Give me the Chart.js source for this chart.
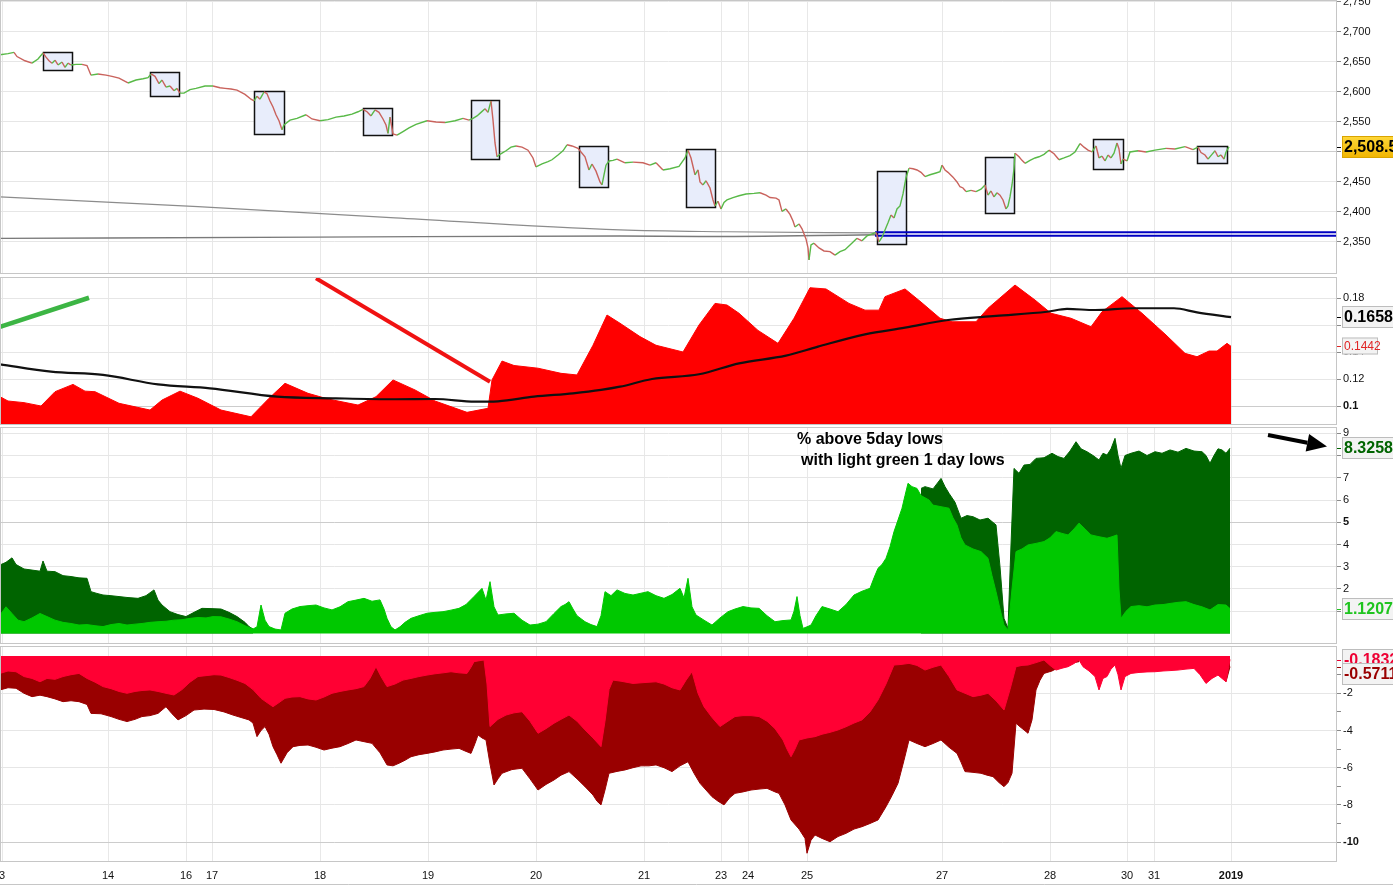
<!DOCTYPE html>
<html><head><meta charset="utf-8">
<script src="https://cdn.jsdelivr.net/npm/chart.js@4.4.1/dist/chart.umd.min.js"></script>
<style>
html,body{margin:0;padding:0;background:#fff;overflow:hidden;width:1393px;height:887px}
canvas{position:absolute;left:0}
</style></head><body>
<canvas id="c1" width="1393" height="274" style="top:0px"></canvas>
<canvas id="c2" width="1393" height="148" style="top:277px"></canvas>
<canvas id="c3" width="1393" height="217" style="top:427px"></canvas>
<canvas id="c4" width="1393" height="241" style="top:646px"></canvas>
<script>
// ---------- DATA ----------
// time axis (bar index) and day labels
const tickPos = [2,108,186,212,320,428,536,644,721,748,807,942,1050,1127,1154,1231];
const tickLabels = ['3','14','16','17','18','19','20','21','23','24','25','27','28','30','31','2019'];
const X_MIN = 0, X_MAX = 1337;

// panel 1 : price
const priceTicks = [2350,2400,2450,2500,2550,2600,2650,2700,2750];
const priceData = [[0,2662],[8,2664],[14,2666],[17,2659],[25,2652],[32,2648],[38,2655],[43,2665],[46,2658],[49,2652],[52,2648],[55,2653],[58,2645],[62,2650],[65,2641],[68,2648],[71,2645],[76,2646],[82,2646],[87,2644],[91,2628],[98,2630],[106,2628],[112,2626],[119,2623],[128,2615],[136,2620],[143,2622],[148,2624],[151,2630],[155,2626],[159,2614],[162,2620],[166,2608],[170,2610],[174,2602],[177,2606],[180,2598],[184,2598],[190,2604],[196,2606],[205,2610],[213,2610],[220,2607],[225,2606],[231,2605],[237,2603],[245,2596],[251,2588],[254,2585],[257,2593],[260,2588],[264,2600],[267,2597],[270,2585],[273,2575],[276,2562],[279,2552],[282,2537],[284,2545],[290,2553],[297,2556],[306,2562],[312,2555],[320,2552],[328,2554],[336,2558],[344,2560],[352,2563],[358,2567],[363,2571],[367,2567],[371,2560],[375,2570],[379,2566],[383,2555],[386,2545],[388,2531],[390,2558],[393,2530],[397,2528],[403,2534],[409,2540],[416,2546],[427,2552],[436,2550],[445,2549],[455,2552],[463,2556],[469,2553],[473,2556],[477,2560],[481,2566],[485,2572],[488,2566],[491,2585],[493,2553],[495,2515],[497,2492],[499,2495],[502,2498],[506,2502],[511,2508],[516,2510],[522,2508],[528,2503],[533,2490],[536,2475],[542,2480],[548,2484],[552,2487],[558,2495],[563,2502],[567,2512],[572,2510],[578,2506],[581,2500],[585,2492],[589,2470],[592,2480],[596,2468],[600,2450],[602,2445],[604,2462],[606,2478],[609,2485],[613,2486],[617,2488],[625,2482],[633,2483],[643,2482],[650,2478],[656,2482],[663,2470],[670,2472],[679,2476],[685,2490],[688,2503],[691,2490],[695,2462],[698,2470],[700,2450],[703,2445],[706,2452],[710,2440],[713,2420],[715,2410],[718,2418],[721,2405],[724,2416],[727,2420],[733,2424],[739,2427],[746,2430],[754,2431],[760,2432],[766,2428],[770,2424],[776,2423],[779,2420],[782,2401],[786,2405],[790,2396],[793,2385],[795,2375],[799,2380],[802,2372],[806,2355],[808,2340],[809,2320],[811,2345],[814,2348],[819,2340],[824,2335],[830,2334],[835,2328],[840,2334],[845,2337],[850,2345],[857,2356],[862,2352],[867,2360],[873,2364],[876,2366],[879,2350],[882,2358],[885,2370],[888,2382],[891,2395],[894,2390],[897,2405],[900,2410],[903,2430],[906,2457],[909,2473],[913,2472],[917,2470],[921,2466],[925,2459],[930,2462],[936,2465],[940,2467],[942,2478],[945,2470],[948,2466],[953,2458],[957,2450],[960,2442],[963,2440],[966,2434],[971,2436],[976,2434],[981,2438],[985,2445],[988,2428],[991,2435],[994,2425],[997,2432],[1000,2428],[1003,2420],[1006,2405],[1008,2410],[1010,2425],[1012,2445],[1014,2472],[1015,2498],[1019,2492],[1022,2486],[1025,2481],[1030,2486],[1035,2490],[1039,2492],[1044,2496],[1049,2503],[1054,2497],[1059,2487],[1064,2490],[1070,2494],[1075,2500],[1080,2514],[1084,2508],[1088,2503],[1092,2500],[1096,2510],[1099,2490],[1102,2493],[1105,2485],[1108,2495],[1111,2490],[1114,2498],[1117,2515],[1119,2505],[1121,2480],[1123,2488],[1127,2485],[1130,2500],[1138,2502],[1146,2500],[1155,2503],[1166,2506],[1175,2505],[1185,2509],[1193,2504],[1198,2508],[1201,2499],[1205,2495],[1208,2488],[1212,2496],[1215,2502],[1218,2492],[1221,2495],[1224,2488],[1226,2500],[1229,2508.5]];
const lastPrice = 2508.5;
const slowAvg = [[0,2425],[198,2409],[395,2390],[620,2370],[727,2367],[877,2365]];
const flatAvg = [[0,2356],[316,2358],[620,2360],[699,2359],[877,2362]];
const supportLevels = [2366, 2360.5];
const supportStart = 875;
const boxStart = [43,150,254,363,471,579,686,877,985,1093,1197];
const boxEnd   = [72,179,284,392,499,608,715,906,1014,1123,1227];
const boxHigh  = [2667,2634,2601,2573,2586,2510,2505,2468,2491,2521,2510];
const boxLow   = [2637,2593,2530,2528,2488,2441,2408,2346,2398,2471,2481];

// panel 2 : red area + black average
const volTicks = [0.1,0.12,0.14,0.16,0.18];
const volData = [[0,0.1069],[8,0.1037],[24,0.1025],[41,0.100],[55,0.1106],[73,0.116],[85,0.111],[95,0.1106],[119,0.102],[150,0.097],[162,0.1044],[180,0.111],[198,0.1057],[221,0.097],[251,0.092],[269,0.1057],[285,0.1168],[308,0.1094],[328,0.1052],[358,0.1007],[376,0.1069],[393,0.1193],[415,0.1119],[435,0.1037],[467,0.0953],[488,0.0983],[492,0.1193],[502,0.1333],[514,0.130],[538,0.128],[561,0.1242],[577,0.123],[593,0.145],[607,0.1674],[620,0.1613],[640,0.1514],[656,0.145],[683,0.140],[699,0.160],[715,0.176],[727,0.1748],[739,0.1687],[758,0.156],[778,0.1464],[794,0.165],[810,0.1876],[826,0.1867],[849,0.176],[865,0.171],[879,0.171],[885,0.181],[905,0.1867],[921,0.177],[940,0.165],[952,0.1624],[976,0.1624],[988,0.1724],[1015,0.1896],[1035,0.1785],[1051,0.1687],[1071,0.165],[1091,0.1587],[1102,0.1698],[1122,0.181],[1142,0.1687],[1166,0.1526],[1185,0.139],[1197,0.1365],[1209,0.1407],[1217,0.1407],[1227,0.1464],[1231,0.1442]];
const volMaData = [[0,0.1309],[51,0.1254],[103,0.123],[158,0.116],[210,0.1131],[277,0.1069],[336,0.1057],[395,0.105],[435,0.1052],[475,0.1032],[498,0.1035],[534,0.1069],[573,0.1094],[601,0.1119],[620,0.1143],[652,0.120],[699,0.1235],[739,0.1316],[786,0.1373],[818,0.144],[865,0.1531],[905,0.158],[948,0.1637],[996,0.1667],[1047,0.1698],[1067,0.1719],[1095,0.1711],[1134,0.1724],[1174,0.1724],[1197,0.1694],[1231,0.1658]];
const lastVol = 0.1442, lastVolMa = 0.1658;
const trendGreen = [[0,0.1587],[89,0.1802]];
const trendRed = [[316,0.1946],[490,0.118]];

// panel 3 : % above lows
const pctTicks = [1,2,3,4,5,6,7,8,9];
const above5Data = [[0,3.08],[6,3.2],[12,3.4],[16,3.1],[24,2.9],[32,2.85],[40,2.8],[43,3.26],[47,2.8],[55,2.78],[63,2.6],[71,2.56],[79,2.5],[87,2.48],[91,1.88],[97,1.8],[103,1.73],[111,1.7],[119,1.66],[127,1.62],[138,1.58],[146,1.7],[154,1.96],[158,1.5],[162,1.28],[170,0.98],[178,0.85],[186,0.76],[194,0.95],[202,1.13],[210,1.12],[221,1.10],[229,0.95],[237,0.76],[245,0.5],[249,0.31],[253,0.2],[255,null],[921,6.52],[925,6.6],[933,6.5],[941,6.97],[945,6.6],[949,6.3],[955,5.9],[961,5.18],[967,5.3],[973,5.25],[980,5.1],[988,5.18],[996,4.88],[1000,3.0],[1004,0.68],[1008,0.23],[1011,4.0],[1014,7.42],[1019,7.2],[1024,7.57],[1030,7.6],[1036,7.87],[1044,7.9],[1052,8.1],[1058,7.95],[1064,7.87],[1070,8.2],[1076,8.62],[1081,8.3],[1087,8.17],[1093,8.0],[1099,7.8],[1103,8.1],[1107,8.02],[1111,8.3],[1115,8.77],[1118,8.0],[1121,7.42],[1125,8.0],[1131,8.1],[1139,8.2],[1147,8.0],[1155,8.17],[1162,8.1],[1170,8.25],[1178,8.15],[1186,8.32],[1194,8.2],[1202,8.17],[1206,8.0],[1210,7.65],[1214,8.0],[1218,8.3],[1222,8.25],[1226,8.1],[1230,8.33]];
const above1Data = [[0,0.83],[6,1.2],[12,0.9],[18,0.6],[24,0.53],[32,0.7],[40,0.9],[47,0.76],[55,0.6],[63,0.5],[71,0.45],[79,0.38],[87,0.4],[95,0.35],[103,0.31],[111,0.4],[119,0.45],[127,0.38],[135,0.42],[142,0.45],[150,0.5],[158,0.53],[166,0.55],[174,0.6],[182,0.62],[190,0.68],[198,0.72],[206,0.7],[213,0.76],[221,0.75],[229,0.65],[237,0.53],[245,0.35],[253,0.2],[257,0.3],[261,1.28],[265,0.6],[269,0.31],[275,0.2],[281,0.16],[285,0.91],[292,1.1],[300,1.21],[308,1.25],[316,1.28],[324,1.15],[332,1.06],[340,1.2],[348,1.43],[356,1.5],[364,1.58],[372,1.45],[380,1.51],[384,1.1],[387,0.68],[391,0.3],[395,0.16],[400,0.3],[405,0.5],[411,0.68],[419,0.8],[427,0.91],[435,0.95],[443,0.98],[451,1.05],[459,1.13],[466,1.3],[474,1.66],[482,2.03],[486,1.5],[490,2.33],[494,1.2],[498,0.83],[506,0.88],[514,0.91],[522,0.6],[530,0.38],[538,0.42],[546,0.53],[554,0.9],[561,1.21],[565,1.3],[569,1.43],[573,1.1],[577,0.8],[585,0.53],[591,0.4],[597,0.31],[601,0.8],[605,1.88],[611,1.7],[617,1.96],[625,1.8],[633,1.73],[640,1.8],[648,1.88],[656,1.7],[664,1.58],[672,1.75],[680,2.03],[684,1.6],[688,2.48],[692,1.2],[696,0.83],[704,0.6],[712,0.38],[720,0.7],[728,0.98],[735,1.1],[743,1.21],[751,1.15],[759,1.13],[767,0.8],[775,0.53],[783,0.58],[791,0.61],[794,1.0],[797,1.66],[800,0.8],[803,0.23],[807,0.3],[811,0.38],[816,0.8],[822,1.21],[830,1.1],[838,0.98],[846,1.3],[854,1.73],[862,1.9],[870,2.03],[874,2.5],[878,2.93],[882,3.1],[886,3.38],[890,3.9],[894,4.58],[898,5.1],[902,5.63],[905,6.2],[908,6.75],[912,6.6],[917,6.52],[921,6.2],[925,6.1],[929,6.0],[933,5.77],[941,5.7],[949,5.63],[953,5.2],[957,4.88],[961,4.3],[965,3.98],[973,3.8],[981,3.68],[988,3.38],[992,2.6],[996,1.88],[1000,1.1],[1004,0.38],[1008,0.16],[1012,2.0],[1016,3.68],[1022,3.8],[1028,3.98],[1036,4.05],[1044,4.13],[1050,4.3],[1056,4.58],[1062,4.5],[1068,4.43],[1074,4.7],[1079,4.96],[1085,4.7],[1091,4.43],[1099,4.35],[1107,4.28],[1112,4.35],[1117,4.43],[1119,2.0],[1121,0.68],[1126,1.0],[1131,1.21],[1139,1.25],[1147,1.2],[1155,1.28],[1163,1.3],[1170,1.35],[1178,1.4],[1186,1.43],[1194,1.3],[1202,1.2],[1210,1.06],[1218,1.3],[1226,1.28],[1230,1.12]];
const lastAbove5 = 8.3258, lastAbove1 = 1.1207;
const noteLines = ['% above 5day lows', 'with light green 1 day lows'];
const noteAnchors = [[797, 8.70], [801, 7.75]];
const arrowPts = [[1268, 8.92], [1327, 8.40]];

// panel 4 : % below highs
const negTicks = [-10,-9,-8,-7,-6,-5,-4,-3,-2,-1];
const below1Data = [[0,-0.93],[8,-0.8],[16,-0.84],[24,-1.1],[32,-1.2],[40,-1.38],[47,-1.2],[55,-1.25],[63,-1.1],[71,-1.0],[79,-0.93],[87,-1.2],[95,-1.4],[103,-1.64],[111,-1.75],[119,-1.9],[127,-2.0],[135,-1.9],[142,-1.85],[150,-1.82],[158,-1.9],[166,-2.0],[174,-2.09],[182,-1.8],[190,-1.4],[198,-1.1],[206,-1.05],[214,-1.0],[221,-1.02],[229,-1.15],[237,-1.3],[245,-1.47],[253,-1.8],[261,-2.27],[267,-2.5],[273,-2.72],[279,-2.5],[285,-2.27],[292,-2.2],[300,-2.18],[308,-2.3],[316,-2.36],[324,-2.2],[332,-2.0],[340,-1.9],[348,-1.82],[356,-1.75],[364,-1.64],[370,-1.2],[376,-0.57],[381,-1.1],[387,-1.64],[395,-1.5],[403,-1.29],[411,-1.2],[419,-1.1],[427,-1.02],[435,-0.95],[443,-0.9],[451,-0.84],[459,-0.9],[467,-0.93],[471,-0.6],[474,-0.3],[479,-0.25],[484,-0.21],[487,-1.5],[490,-3.79],[498,-3.4],[506,-3.17],[514,-3.05],[522,-2.99],[530,-3.5],[538,-4.15],[546,-3.9],[554,-3.61],[561,-3.4],[569,-3.17],[577,-3.5],[585,-3.97],[593,-4.4],[601,-4.87],[605,-3.5],[609,-1.8],[613,-1.29],[621,-1.35],[633,-1.47],[645,-1.42],[656,-1.38],[664,-1.5],[672,-1.7],[680,-1.82],[686,-1.3],[692,-0.84],[698,-2.0],[704,-2.72],[712,-3.3],[720,-3.79],[728,-3.5],[735,-3.25],[743,-3.2],[751,-3.2],[759,-3.25],[767,-3.5],[775,-3.9],[783,-4.51],[787,-5.0],[791,-5.41],[795,-5.0],[799,-4.51],[807,-4.4],[815,-4.33],[822,-4.2],[830,-4.1],[838,-3.97],[846,-3.8],[854,-3.6],[862,-3.43],[870,-3.0],[878,-2.36],[886,-1.5],[894,-0.48],[901,-0.45],[909,-0.39],[917,-0.5],[925,-0.75],[933,-0.6],[941,-0.48],[949,-1.1],[957,-1.82],[965,-2.0],[973,-2.18],[981,-2.1],[988,-2.0],[996,-2.4],[1004,-2.9],[1010,-1.8],[1016,-0.57],[1022,-0.5],[1028,-0.48],[1036,-0.35],[1044,-0.21],[1050,-0.5],[1056,-0.75],[1062,-0.65],[1068,-0.57],[1074,-0.4],[1079,-0.21],[1083,-0.57],[1089,-0.8],[1095,-1.1],[1099,-1.82],[1103,-1.2],[1107,-1.1],[1111,-0.7],[1115,-0.48],[1118,-1.0],[1121,-1.82],[1125,-1.1],[1131,-0.93],[1139,-0.88],[1147,-0.85],[1155,-0.84],[1163,-0.8],[1170,-0.78],[1178,-0.75],[1186,-0.7],[1194,-0.66],[1200,-1.0],[1206,-1.47],[1212,-1.2],[1218,-1.02],[1222,-1.2],[1226,-1.38],[1230,-0.18]];
const below5Data = [[0,-1.82],[8,-1.7],[16,-1.73],[24,-2.0],[32,-2.18],[40,-2.1],[47,-2.18],[55,-2.3],[63,-2.45],[71,-2.4],[79,-2.45],[87,-2.6],[91,-3.08],[101,-3.1],[111,-3.25],[119,-3.4],[127,-3.52],[135,-3.4],[142,-3.25],[150,-3.2],[158,-3.08],[162,-2.9],[166,-2.72],[172,-3.1],[178,-3.43],[186,-3.2],[194,-2.9],[204,-2.85],[214,-2.87],[224,-3.0],[233,-3.17],[241,-3.3],[249,-3.43],[253,-3.6],[257,-4.33],[261,-4.0],[265,-3.79],[269,-4.2],[273,-4.87],[277,-5.3],[281,-5.76],[287,-5.2],[293,-4.87],[300,-4.8],[308,-4.78],[316,-4.9],[324,-5.05],[332,-4.95],[340,-4.87],[348,-4.7],[356,-4.51],[364,-4.6],[372,-4.69],[380,-5.2],[387,-5.85],[393,-5.9],[399,-5.76],[405,-5.6],[411,-5.41],[419,-5.3],[427,-5.23],[435,-5.15],[443,-5.05],[451,-5.0],[459,-4.96],[465,-5.1],[471,-5.23],[475,-4.7],[478,-4.24],[482,-4.4],[486,-4.51],[490,-5.8],[494,-6.93],[498,-6.6],[502,-6.3],[512,-6.1],[522,-6.03],[530,-6.6],[538,-7.2],[546,-6.9],[554,-6.66],[561,-6.4],[569,-6.21],[577,-6.6],[585,-7.02],[593,-7.47],[597,-7.8],[601,-8.0],[605,-7.2],[609,-6.3],[617,-6.2],[625,-6.12],[633,-6.0],[641,-5.9],[649,-5.9],[656,-5.85],[664,-6.0],[672,-6.21],[680,-5.9],[688,-5.68],[694,-6.3],[700,-6.84],[706,-7.2],[712,-7.56],[718,-7.8],[724,-8.0],[730,-7.6],[735,-7.38],[743,-7.3],[751,-7.2],[759,-7.15],[767,-7.11],[775,-7.3],[779,-7.38],[785,-8.0],[791,-8.81],[799,-9.3],[805,-9.8],[807,-10.6],[811,-9.9],[815,-9.62],[822,-9.8],[830,-9.98],[838,-9.7],[846,-9.53],[854,-9.3],[862,-9.17],[870,-9.0],[878,-8.81],[886,-8.1],[892,-7.5],[898,-6.84],[904,-5.6],[909,-4.51],[917,-4.7],[925,-4.87],[933,-4.7],[941,-4.51],[949,-4.9],[957,-5.23],[961,-5.7],[965,-6.21],[973,-6.25],[981,-6.3],[987,-6.4],[993,-6.48],[999,-6.8],[1004,-7.02],[1008,-6.8],[1012,-6.3],[1016,-3.61],[1020,-3.8],[1024,-3.97],[1028,-4.15],[1032,-3.43],[1036,-1.82],[1040,-1.3],[1044,-0.93],[1052,-0.8],[1060,-0.57],[1068,-0.5],[1074,-0.35],[1079,-0.3],[1083,null],[1226,-1.38],[1230,-0.57]];
const lastBelow1 = -0.1832, lastBelow5 = -0.5711;

// ---------- RENDERING ----------
const FONT = "'Liberation Sans', Arial, sans-serif";
const NARROW = "'Liberation Sans Narrow', 'Arial Narrow', 'Liberation Sans', Arial, sans-serif";
const AXIS_W = 56;
const pts = a => a.map(p => ({x: p[0], y: p[1]}));

function xScale(showLabels) {
  return {
    type: 'linear', min: X_MIN, max: X_MAX, position: 'bottom',
    afterBuildTicks: s => { s.ticks = tickPos.map(v => ({value: v})); },
    afterFit: s => { s.height = showLabels ? 25 : 0; s.paddingLeft = 0; s.paddingRight = 0; },
    border: {display: false},
    grid: {color: '#e8e8e8', drawTicks: false, lineWidth: 1},
    ticks: {
      display: showLabels, autoSkip: false, maxRotation: 0, minRotation: 0, padding: 7, color: '#111',
      font: c => ({family: NARROW, size: 11, weight: c.index === tickLabels.length - 1 ? 'bold' : 'normal'}),
      callback: (v, i) => tickLabels[i]
    }
  };
}
function yScale(min, max, ticks, fmt, strong) {
  return {
    position: 'right', min, max,
    afterBuildTicks: s => { s.ticks = ticks.map(v => ({value: v})); },
    afterFit: s => { s.width = AXIS_W; s.paddingTop = 0; s.paddingBottom = 0; },
    border: {display: false},
    grid: {
      color: c => !c.tick ? '#e6e6e6' : (fmt(c.tick.value) === '' ? 'rgba(0,0,0,0)' : (c.tick.value === strong ? '#cccccc' : '#e6e6e6')),
      tickColor: '#8a8a8a', tickLength: 4, lineWidth: 1
    },
    ticks: {
      autoSkip: false, padding: 2, color: '#111',
      font: c => ({family: FONT, size: 11, weight: c.tick && c.tick.value === strong ? 'bold' : 'normal'}),
      callback: v => fmt(v)
    }
  };
}
function baseOptions(xs, ys) {
  return {
    responsive: false, animation: false, devicePixelRatio: 1, events: [],
    layout: {padding: 0},
    plugins: {legend: {display: false}, tooltip: {enabled: false}},
    elements: {point: {radius: 0}, line: {tension: 0}},
    scales: {x: xs, y: ys}
  };
}
const framePlugin = {
  id: 'frame',
  afterDatasetsDraw(chart) {
    const {ctx, chartArea: a} = chart;
    ctx.save();
    ctx.strokeStyle = '#c6c6c6'; ctx.lineWidth = 1;
    ctx.strokeRect(a.left + 0.5, a.top + 0.5, a.right - a.left - 1, a.bottom - a.top - 1);
    ctx.restore();
  }
};
function badgePlugin(items) {
  return {
    id: 'badges',
    afterDraw(chart) {
      const {ctx, chartArea: a, scales: {y}} = chart;
      ctx.save();
      items.forEach(b => {
        const yy = Math.round(y.getPixelForValue(b.value)) + (b.shift || 0);
        const left = a.right + 5;
        const top = yy - b.h / 2;
        if (b.gold) {
          const g = ctx.createLinearGradient(0, top, 0, top + b.h);
          g.addColorStop(0, '#ffd83a'); g.addColorStop(1, '#f0b400');
          ctx.fillStyle = g;
        } else ctx.fillStyle = '#f3f3f3';
        ctx.fillRect(left, top, b.w, b.h);
        ctx.strokeStyle = b.gold ? '#d9a400' : '#bdbdbd'; ctx.lineWidth = 1;
        ctx.strokeRect(left + 0.5, top + 0.5, b.w - 1, b.h - 1);
        ctx.fillStyle = b.color;
        ctx.font = (b.bold ? 'bold ' : '') + b.size + 'px ' + FONT;
        ctx.textBaseline = 'middle'; ctx.textAlign = 'left';
        ctx.fillText(b.text, left + 2, top + b.h / 2 + 1);
        const ty = Math.round(y.getPixelForValue(b.value)) + 0.5;
        ctx.strokeStyle = b.color; ctx.beginPath(); ctx.moveTo(a.right, ty); ctx.lineTo(a.right + 4, ty); ctx.stroke();
      });
      ctx.restore();
    }
  };
}

// ---- panel 1
const UP = '#58b947', DOWN = '#c9625c';
const boxesPlugin = {
  id: 'boxes',
  beforeDatasetsDraw(chart) {
    const {ctx, scales: {x, y}} = chart;
    ctx.save();
    boxStart.forEach((s, i) => {
      const l = Math.round(x.getPixelForValue(s)) + 0.5, r = Math.round(x.getPixelForValue(boxEnd[i])) + 0.5;
      const t = Math.round(y.getPixelForValue(boxHigh[i])) + 0.5, b = Math.round(y.getPixelForValue(boxLow[i])) + 0.5;
      ctx.fillStyle = '#e8edfb'; ctx.fillRect(l, t, r - l, b - t);
      ctx.strokeStyle = '#111'; ctx.lineWidth = 1.5; ctx.strokeRect(l, t, r - l, b - t);
    });
    ctx.restore();
  }
};
new Chart(document.getElementById('c1'), {
  type: 'line',
  data: {datasets: [
    {data: pts(priceData), borderWidth: 1.4, borderColor: UP,
     segment: {borderColor: c => c.p1.parsed.y >= c.p0.parsed.y ? UP : DOWN}},
    ...supportLevels.map(v => ({data: [{x: supportStart, y: v}, {x: X_MAX, y: v}], borderColor: '#0000c0', borderWidth: 2})),
    {data: pts(slowAvg), borderColor: '#8c8c8c', borderWidth: 1.2, cubicInterpolationMode: 'monotone'},
    {data: pts(flatAvg), borderColor: '#7a7a7a', borderWidth: 1.4, cubicInterpolationMode: 'monotone'}
  ]},
  options: baseOptions(xScale(false), yScale(2296.6, 2753.3, priceTicks, v => v.toLocaleString('en-US'), 2500)),
  plugins: [boxesPlugin, framePlugin, badgePlugin([
    {value: lastPrice, text: lastPrice.toLocaleString('en-US', {minimumFractionDigits: 1}), color: '#000', bold: true, size: 16, w: 60, h: 22, gold: true}
  ])]
});

// ---- panel 2
new Chart(document.getElementById('c2'), {
  type: 'line',
  data: {datasets: [
    {data: pts(volMaData), borderColor: '#111', borderWidth: 2.2, cubicInterpolationMode: 'monotone'},
    {data: pts(trendGreen), borderColor: '#3cb544', borderWidth: 4.5},
    {data: pts(trendRed), borderColor: '#f01212', borderWidth: 4},
    {data: pts(volData), borderColor: '#ff0000', borderWidth: 1, backgroundColor: '#ff0000', fill: 'start'}
  ]},
  options: baseOptions(xScale(false), yScale(0.08593, 0.19556, volTicks, v => String(+v.toFixed(2)), 0.1)),
  plugins: [framePlugin, badgePlugin([
    {value: lastVolMa, text: lastVolMa.toFixed(4), color: '#000', bold: true, size: 16, w: 60, h: 22},
    {value: lastVol, text: lastVol.toFixed(4), color: '#e02424', bold: false, size: 12, w: 36, h: 17}
  ])]
});

// ---- panel 3
const notesPlugin = {
  id: 'notes',
  afterDatasetsDraw(chart) {
    const {ctx, scales: {x, y}} = chart;
    ctx.save();
    ctx.fillStyle = '#000'; ctx.font = 'bold 16px ' + FONT; ctx.textBaseline = 'middle'; ctx.textAlign = 'left';
    noteLines.forEach((t, i) => ctx.fillText(t, x.getPixelForValue(noteAnchors[i][0]), y.getPixelForValue(noteAnchors[i][1])));
    const x0 = x.getPixelForValue(arrowPts[0][0]), y0 = y.getPixelForValue(arrowPts[0][1]);
    const x1 = x.getPixelForValue(arrowPts[1][0]), y1 = y.getPixelForValue(arrowPts[1][1]);
    const ang = Math.atan2(y1 - y0, x1 - x0), head = 20, half = 9;
    const bx = x1 - head * Math.cos(ang), by = y1 - head * Math.sin(ang);
    ctx.strokeStyle = '#000'; ctx.lineWidth = 4; ctx.beginPath(); ctx.moveTo(x0, y0); ctx.lineTo(bx, by); ctx.stroke();
    ctx.beginPath(); ctx.moveTo(x1, y1);
    ctx.lineTo(bx + half * Math.sin(ang), by - half * Math.cos(ang));
    ctx.lineTo(bx - half * Math.sin(ang), by + half * Math.cos(ang));
    ctx.closePath(); ctx.fill();
    ctx.restore();
  }
};
new Chart(document.getElementById('c3'), {
  type: 'line',
  data: {datasets: [
    {data: pts(above1Data), borderColor: '#00c800', borderWidth: 1, backgroundColor: '#00c800', fill: 'origin'},
    {data: pts(above5Data), borderColor: '#006400', borderWidth: 1, backgroundColor: '#006400', fill: 'origin'}
  ]},
  options: baseOptions(xScale(false), yScale(-0.472, 9.281, pctTicks, v => String(v), 5)),
  plugins: [framePlugin, notesPlugin, badgePlugin([
    {value: lastAbove5, text: lastAbove5.toFixed(4), color: '#006400', bold: true, size: 16, w: 60, h: 22},
    {value: lastAbove1, text: lastAbove1.toFixed(4), color: '#1fc41f', bold: true, size: 16, w: 60, h: 22}
  ])]
});

// ---- panel 4
const bottomRule = {
  id: 'bottomRule',
  afterDraw(chart) {
    const {ctx, chartArea: a, width} = chart;
    ctx.save(); ctx.strokeStyle = '#c6c6c6'; ctx.lineWidth = 1;
    ctx.beginPath(); ctx.moveTo(0, a.bottom + 22.5); ctx.lineTo(width, a.bottom + 22.5); ctx.stroke();
    ctx.restore();
  }
};
new Chart(document.getElementById('c4'), {
  type: 'line',
  data: {datasets: [
    {data: pts(below1Data), borderColor: '#ff0033', borderWidth: 1, backgroundColor: '#ff0033', fill: 'origin'},
    {data: pts(below5Data), borderColor: '#990000', borderWidth: 1, backgroundColor: '#990000', fill: 'origin'}
  ]},
  options: baseOptions(xScale(true), yScale(-11.07, 0.543, negTicks, v => (v % 2 === 0 ? String(v) : ''), -10)),
  plugins: [framePlugin, bottomRule, badgePlugin([
    {value: lastBelow1, text: lastBelow1.toFixed(4), color: '#ee0033', bold: true, size: 16, w: 60, h: 22},
    {value: lastBelow5, text: lastBelow5.toFixed(4), color: '#990000', bold: true, size: 16, w: 60, h: 22, shift: 7}
  ])]
});
</script>
</body></html>
